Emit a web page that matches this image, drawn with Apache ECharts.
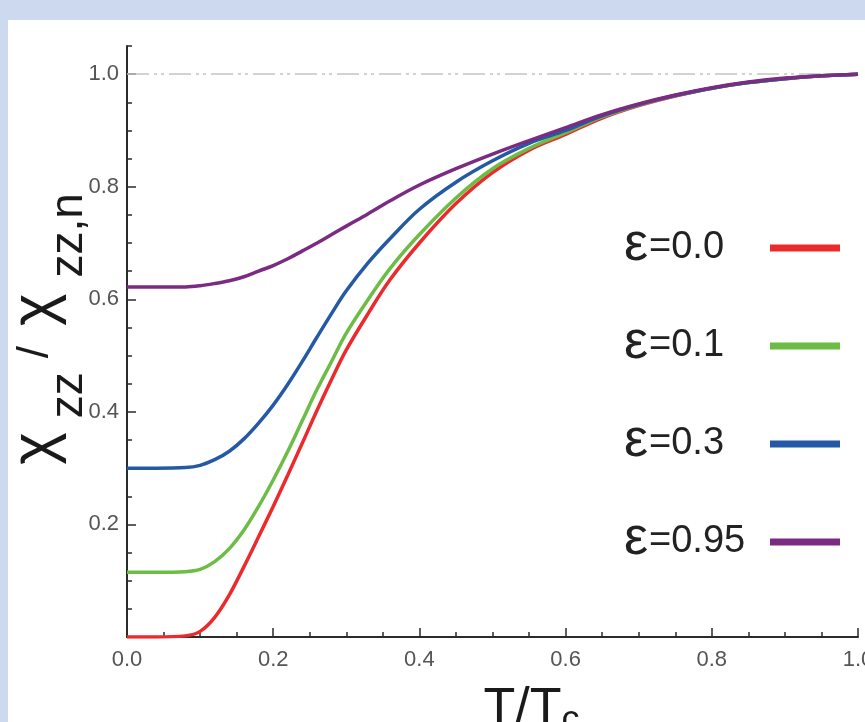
<!DOCTYPE html>
<html>
<head>
<meta charset="utf-8">
<script src="https://cdn.jsdelivr.net/npm/echarts@6/dist/echarts.min.js"></script>
<style>
  html, body { margin: 0; padding: 0; }
  #chart { width: 865px; height: 722px; }
</style>
</head>
<body>
<div id="chart"></div>
<script>
// T/Tc sample points
const tValues = [0, 0.04, 0.08, 0.1, 0.12, 0.14, 0.16, 0.18, 0.2, 0.22, 0.24, 0.26, 0.28, 0.3, 0.33, 0.36, 0.4, 0.45, 0.5, 0.55, 0.6, 0.65, 0.7, 0.75, 0.8, 0.85, 0.9, 0.95, 1.0]
// chi_zz / chi_zz,n for each epsilon
const eps00 = [0, 0, 0.002, 0.01, 0.035, 0.075, 0.125, 0.178, 0.232, 0.288, 0.345, 0.403, 0.458, 0.51, 0.575, 0.635, 0.70, 0.77, 0.825, 0.865, 0.893, 0.922, 0.944, 0.961, 0.975, 0.985, 0.992, 0.997, 1.0]
const eps01 = [0.115, 0.115, 0.116, 0.12, 0.134, 0.157, 0.19, 0.232, 0.279, 0.33, 0.385, 0.44, 0.49, 0.54, 0.60, 0.655, 0.715, 0.78, 0.832, 0.868, 0.896, 0.924, 0.945, 0.962, 0.975, 0.985, 0.992, 0.997, 1.0]
const eps03 = [0.30, 0.30, 0.301, 0.305, 0.315, 0.33, 0.352, 0.38, 0.412, 0.449, 0.49, 0.533, 0.575, 0.615, 0.665, 0.708, 0.76, 0.808, 0.846, 0.877, 0.90, 0.926, 0.946, 0.962, 0.975, 0.985, 0.992, 0.997, 1.0]
const eps095 = [0.622, 0.622, 0.622, 0.624, 0.628, 0.633, 0.64, 0.65, 0.66, 0.672, 0.686, 0.70, 0.715, 0.73, 0.752, 0.775, 0.803, 0.832, 0.858, 0.882, 0.905, 0.928, 0.947, 0.963, 0.976, 0.986, 0.993, 0.997, 1.0]

const seriesNames = ['ε=0.0', 'ε=0.1', 'ε=0.3', 'ε=0.95']
const seriesColors = ['#ec2a2c', '#6cbd45', '#2459a6', '#7c2b83']
const seriesData = [eps00, eps01, eps03, eps095]

// tick values
const xTicks = [0, 0.2, 0.4, 0.6, 0.8, 1.0]
const yLabels = [0.2, 0.4, 0.6, 0.8, 1.0]
const yMinorTicks = [0, 0.05, 0.1, 0.15, 0.2, 0.25, 0.3, 0.35, 0.4, 0.45, 0.5, 0.55, 0.6, 0.65, 0.7, 0.75, 0.8, 0.85, 0.9, 0.95, 1.0, 1.05]

const axisColor = '#2b2b2b'
const font = "'Liberation Sans', Arial, sans-serif"
const legendFontSize = 38
const legendTextBox = 116

const chart = echarts.init(document.getElementById('chart'))

// legend text is right-aligned by echarts, pad every label to the same width so they line up on the left
const measureCtx = document.createElement('canvas').getContext('2d')
measureCtx.font = legendFontSize + 'px ' + font
const legendRich = {
  e: { fontFamily: font, fontSize: 54, color: '#222', lineHeight: 40, padding: [0, 1, 6, 0] }
}
seriesNames.forEach((name, i) => {
  const w = measureCtx.measureText(name.slice(1)).width
  legendRich['t' + i] = {
    fontFamily: font, fontSize: legendFontSize, color: '#222', lineHeight: 40,
    padding: [0, Math.max(0, legendTextBox - w), 0, 0]
  }
})

const series = seriesNames.map((name, i) => {
  const s = {
    name: name,
    type: 'line',
    data: tValues.map((t, k) => [t, seriesData[i][k]]),
    smooth: 0.35,
    showSymbol: false,
    lineStyle: { color: seriesColors[i], width: 3.5 },
    itemStyle: { color: seriesColors[i] },
    z: 3 + i
  }
  if (i === 0) {
    s.markLine = {
      silent: true,
      symbol: ['none', 'none'],
      label: { show: false },
      lineStyle: { color: '#c4c4c4', width: 1.5, type: [22, 5, 3, 4, 3, 5] },
      data: [{ yAxis: 1 }]
    }
  }
  return s
})

chart.setOption({
  animation: false,
  backgroundColor: '#ccd9ee',
  graphic: {
    elements: [{
      type: 'rect',
      z: -10,
      shape: { x: 8, y: 20, width: 857, height: 702 },
      style: { fill: '#ffffff' }
    }]
  },
  grid: {
    left: 127,
    right: 7,
    top: 46,
    bottom: 85,
    outerBoundsMode: 'none'
  },
  legend: {
    orient: 'vertical',
    right: 25,
    top: 218,
    padding: 0,
    align: 'right',
    icon: 'rect',
    itemWidth: 70,
    itemHeight: 7,
    itemGap: 38,
    data: seriesNames,
    formatter: function (name) {
      return '{e|ε}{t' + seriesNames.indexOf(name) + '|' + name.slice(1) + '}'
    },
    textStyle: { rich: legendRich }
  },
  xAxis: {
    type: 'value',
    min: 0,
    max: 1,
    interval: 0.2,
    name: '{a|T/T}{c|c}',
    nameLocation: 'middle',
    nameMoveOverlap: false,
    nameGap: 47,
    nameTextStyle: {
      padding: [0, 0, 0, 78],
      rich: {
        a: { fontFamily: font, fontSize: 52, color: '#1a1a1a', lineHeight: 52 },
        c: { fontFamily: font, fontSize: 36, color: '#1a1a1a', lineHeight: 36, padding: [22, 0, 0, 0] }
      }
    },
    axisLine: { lineStyle: { color: axisColor, width: 2 } },
    axisTick: { inside: true, length: 9, lineStyle: { color: axisColor, width: 1.5 } },
    minorTick: { show: true, splitNumber: 4, length: 5, lineStyle: { color: axisColor, width: 1.5 } },
    axisLabel: {
      customValues: xTicks,
      margin: 12,
      fontFamily: font,
      fontSize: 22,
      color: '#555',
      formatter: v => v.toFixed(1)
    },
    splitLine: { show: false }
  },
  yAxis: [{
    type: 'value',
    min: 0,
    max: 1.05,
    name: '{x|χ}{s|zz}{m|/}{y|χ}{s|zz,n}',
    nameLocation: 'middle',
    nameRotate: 90,
    nameMoveOverlap: false,
    nameGap: 63,
    nameTextStyle: {
      padding: [0, 0, 0, 9],
      rich: {
        x: { fontFamily: font, fontSize: 62, color: '#1a1a1a', lineHeight: 56, padding: [0, 10, 0, 18] },
        y: { fontFamily: font, fontSize: 62, color: '#1a1a1a', lineHeight: 56, padding: [0, 12, 0, 12] },
        m: { fontFamily: font, fontSize: 44, color: '#1a1a1a', lineHeight: 56, padding: [0, 8, 0, 12] },
        s: { fontFamily: font, fontSize: 46, color: '#1a1a1a', lineHeight: 46, padding: [66, 2, 0, 4] }
      }
    },
    axisLine: { lineStyle: { color: axisColor, width: 2 } },
    axisTick: { inside: true, length: 5, customValues: yMinorTicks, lineStyle: { color: axisColor, width: 1.5 } },
    axisLabel: {
      customValues: yLabels,
      margin: 8,
      fontFamily: font,
      fontSize: 22,
      color: '#555',
      formatter: v => v.toFixed(1)
    },
    splitLine: { show: false }
  }, {
    type: 'value',
    position: 'left',
    min: 0,
    max: 1.05,
    axisLine: { show: false },
    axisTick: { inside: true, length: 9, customValues: yLabels, lineStyle: { color: axisColor, width: 1.5 } },
    axisLabel: { show: false },
    splitLine: { show: false }
  }],
  series: series
})
</script>
</body>
</html>
